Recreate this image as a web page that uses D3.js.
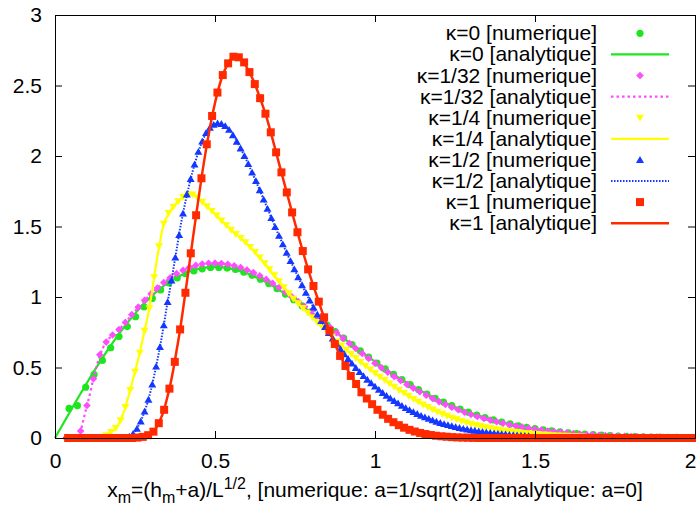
<!DOCTYPE html>
<html><head><meta charset="utf-8">
<script src="https://cdn.jsdelivr.net/npm/d3@7/dist/d3.min.js"></script>
<style>html,body{margin:0;padding:0;background:#fff;} svg{display:block;}</style>
</head><body>
<svg id="chart" width="696" height="509"></svg>
<script>
// ---------- data ----------
const xTickValues = [0, 0.5, 1, 1.5, 2];
const xTickLabels = ["0", "0.5", "1", "1.5", "2"];
const yTickValues = [0, 0.5, 1, 1.5, 2, 2.5, 3];
const yTickLabels = ["0", "0.5", "1", "1.5", "2", "2.5", "3"];
const kappaNames = ["κ=0", "κ=1/32", "κ=1/4", "κ=1/2", "κ=1"];
const numericTag = "[numerique]";
const analyticTag = "[analytique]";

// numerical results: regular grid (start, step) and values
const k0NumStart = 0.044, k0NumStep = 0.026;
const k0NumY = [0.21,0.23,0.36,0.45,0.55,0.64,0.72,0.79,0.86,0.93,
  0.99,1.05,1.10,1.135,1.165,1.185,1.20,1.21,1.21,1.205,
  1.195,1.176,1.154,1.126,1.095,1.059,1.021,0.981,0.938,0.893,
  0.848,0.801,0.755,0.709,0.663,0.618,0.574,0.532,0.490,0.451,
  0.414,0.378,0.344,0.312,0.282,0.255,0.229,0.205,0.183,0.163,
  0.145,0.128,0.113,0.100,0.087,0.076,0.067,0.058,0.050,0.043,
  0.037,0.032,0.028,0.024,0.020,0.017,0.014,0.012,0.010,0.008,
  0.007,0.006,0.005,0.004,0.003,0.002];

const k1NumStart = 0.08, k1NumStep = 0.02;
const k1NumY = [0.05,0.23,0.42,0.59,0.68,0.73,0.77,0.82,0.875,0.928,
  0.977,1.022,1.063,1.102,1.136,1.166,1.19,1.21,1.224,1.234,
  1.239,1.24,1.237,1.232,1.222,1.209,1.192,1.173,1.15,1.125,
  1.097,1.067,1.035,1.002,0.968,0.932,0.896,0.859,0.821,0.784,
  0.746,0.708,0.671,0.635,0.600,0.565,0.531,0.498,0.467,0.437,
  0.408,0.380,0.354,0.328,0.304,0.280,0.258,0.238,0.218,0.200,
  0.183,0.167,0.153,0.139,0.127,0.115,0.104,0.094,0.085,0.077,
  0.069,0.062,0.056,0.050,0.045,0.040,0.036,0.032,0.028,0.025,
  0.022,0.020,0.017,0.015,0.013,0.012,0.010,0.009,0.008,0.007,
  0.006,0.005];

const k2NumStart = 0.13, k2NumStep = 0.015;
const k2NumY = [0.0,0.005,0.02,0.043,0.07,0.125,0.22,0.34,0.47,0.605,
  0.76,0.92,1.14,1.36,1.52,1.595,1.64,1.678,1.71,1.727,
  1.727,1.705,1.675,1.643,1.61,1.577,1.543,1.509,1.476,1.446,
  1.418,1.388,1.355,1.319,1.28,1.239,1.196,1.154,1.112,1.069,
  1.027,0.988,0.955,0.921,0.888,0.855,0.822,0.787,0.753,0.719,
  0.685,0.655,0.625,0.596,0.567,0.539,0.512,0.486,0.46,0.435,
  0.411,0.387,0.364,0.341,0.319,0.298,0.277,0.257,0.237,0.219,
  0.202,0.186,0.171,0.157,0.144,0.132,0.121,0.110,0.100,0.092,
  0.084,0.076,0.070,0.064,0.058,0.053,0.048,0.044,0.040,0.036,
  0.033,0.030,0.027,0.025,0.022,0.020,0.018,0.016,0.015,0.013,
  0.012,0.011];

const k3NumStart = 0.22, k3NumStep = 0.012;
const k3NumY = [0.0,0.01,0.03,0.065,0.118,0.188,0.272,0.38,0.507,0.645,
  0.80,0.965,1.118,1.28,1.44,1.592,1.728,1.838,1.94,2.03,
  2.103,2.163,2.20,2.222,2.232,2.228,2.213,2.186,2.148,2.102,
  2.054,2.0,1.943,1.883,1.823,1.758,1.692,1.626,1.56,1.496,
  1.434,1.374,1.314,1.255,1.197,1.14,1.084,1.03,0.976,0.925,
  0.876,0.83,0.787,0.745,0.706,0.668,0.631,0.595,0.561,0.528,
  0.497,0.468,0.44,0.414,0.389,0.365,0.342,0.32,0.30,0.281,
  0.263,0.246,0.229,0.213,0.198,0.184,0.171,0.158,0.147,0.136,
  0.126,0.116,0.107,0.099,0.092,0.085,0.078,0.072,0.066,0.061,
  0.056,0.052,0.048,0.044,0.040,0.037,0.034,0.031,0.028,0.026,
  0.023,0.021,0.019,0.017,0.016,0.014];

const k4NumStart = 0.041, k4NumStep = 1 / 60;
const k4NumY = [0,0,0,0,0,0,0,0,0,0,0,0,0,
  0.003,0.008,0.02,0.045,0.105,0.20,0.35,0.54,0.77,1.03,
  1.31,1.58,1.842,2.083,2.284,2.45,2.574,2.657,2.704,2.70,
  2.664,2.595,2.51,2.41,2.30,2.168,2.026,1.884,1.742,1.60,
  1.459,1.326,1.196,1.078,0.967,0.856,0.761,0.667,0.582,0.511,
  0.44,0.383,0.324,0.28,0.24,0.20,0.165,0.136,0.112,0.091,
  0.073,0.058,0.046,0.036,0.028,0.021,0.016,0.012,0.009,0.006,
  0.004,0.003,0.002,0.001,
  0,0,0,0,0,0,0,0,0,0,0,0,0,0,0,0,0,0,0,0,
  0,0,0,0,0,0,0,0,0,0,0,0,0,0,0,0,0,0,0,0,0];

// analytical curves
const k0AnaX = [0,0.05,0.1,0.15,0.2,0.25,0.3,0.35,0.4,0.45,0.5,0.55,0.6,0.65,0.7,0.75,0.8,0.85,0.9,0.95,
  1.0,1.05,1.1,1.15,1.2,1.25,1.3,1.35,1.4,1.45,1.5,1.55,1.6,1.65,1.7,1.75,1.8,1.85,1.9,1.95,2.0];
const k0AnaY = [0,0.199,0.392,0.574,0.739,0.882,1.002,1.096,1.162,1.200,
  1.213,1.201,1.168,1.117,1.051,0.974,0.890,0.801,0.712,0.625,
  0.541,0.463,0.391,0.326,0.269,0.220,0.177,0.141,0.111,0.087,
  0.067,0.051,0.038,0.029,0.021,0.015,0.011,0.008,0.006,0.004,0.003];

const k1AnaX = [0.07,0.08,0.09,0.10,0.11,0.12,0.13,0.14,0.15,0.16,
  0.18,0.20,0.25,0.30,0.35,0.40,0.45,0.50,0.55,0.60,
  0.65,0.70,0.75,0.80,0.85,0.90,0.95,1.00,1.05,1.10,
  1.15,1.20,1.25,1.30,1.35,1.40,1.45,1.50,1.60,1.70,1.80,1.90,2.00];
const k1AnaY = [0,0.05,0.14,0.23,0.32,0.42,0.51,0.585,0.64,0.68,
  0.73,0.77,0.90,1.022,1.12,1.19,1.23,1.24,1.227,1.192,
  1.137,1.067,0.985,0.896,0.803,0.708,0.617,0.531,0.452,0.380,
  0.316,0.258,0.209,0.167,0.133,0.104,0.081,0.062,0.036,0.020,0.010,0.005,0.002];

const k2AnaX = [0.13,0.15,0.17,0.19,0.20,0.21,0.22,0.23,0.24,0.25,
  0.26,0.27,0.28,0.29,0.30,0.31,0.32,0.33,0.34,0.35,
  0.37,0.39,0.41,0.43,0.45,0.50,0.55,0.60,0.65,0.70,
  0.75,0.80,0.85,0.90,0.95,1.00,1.05,1.10,1.15,1.20,
  1.25,1.30,1.40,1.50,1.60,1.70,1.80,2.00];
const k2AnaY = [0,0.01,0.035,0.07,0.105,0.155,0.22,0.30,0.383,0.47,
  0.56,0.657,0.76,0.867,0.993,1.14,1.287,1.413,1.52,1.57,
  1.64,1.689,1.721,1.727,1.695,1.588,1.476,1.378,1.253,1.112,
  0.977,0.866,0.753,0.645,0.548,0.46,0.379,0.305,0.237,0.181,
  0.136,0.100,0.056,0.029,0.015,0.007,0.003,0];

const k3AnaX = [0.20,0.22,0.24,0.25,0.26,0.27,0.28,0.29,0.30,0.31,
  0.32,0.33,0.34,0.35,0.36,0.37,0.38,0.39,0.40,
  0.42,0.44,0.46,0.48,0.50,0.52,0.54,0.56,0.58,0.60,
  0.65,0.70,0.75,0.80,0.85,0.90,0.95,1.00,
  1.05,1.10,1.15,1.20,1.30,1.40,1.50,1.60,1.80,2.00];
const k3AnaY = [0,0.003,0.022,0.045,0.083,0.13,0.188,0.258,0.343,0.443,
  0.553,0.67,0.80,0.94,1.065,1.2,1.335,1.475,1.592,
  1.80,1.97,2.103,2.19,2.226,2.228,2.196,2.14,2.054,1.962,
  1.703,1.434,1.188,0.959,0.766,0.607,0.473,0.365,
  0.278,0.208,0.152,0.11,0.056,0.027,0.013,0.006,0.001,0];

const k4AnaX = [0.025,0.25,0.27,0.29,0.30,0.31,0.32,0.33,0.34,0.35,
  0.36,0.37,0.38,0.39,0.40,
  0.42,0.44,0.46,0.48,0.50,0.52,0.54,0.56,0.58,0.60,
  0.62,0.64,0.66,0.68,0.70,0.72,0.74,0.76,0.78,0.80,
  0.82,0.84,0.86,0.88,0.90,
  0.95,1.00,1.05,1.10,1.15,1.20,1.25,1.30,1.40,2.00];
const k4AnaY = [0,0.002,0.006,0.019,0.032,0.052,0.088,0.135,0.195,0.28,
  0.375,0.49,0.62,0.755,0.91,
  1.235,1.565,1.877,2.15,2.376,2.546,2.653,2.705,2.69,2.625,
  2.535,2.416,2.282,2.12,1.948,1.777,1.608,1.44,1.28,1.13,
  0.995,0.862,0.748,0.638,0.543,
  0.351,0.218,0.124,0.065,0.032,0.014,0.005,0.0015,0,0];

// ---------- styles ----------
const FONT = "'Liberation Sans', Arial, Helvetica, sans-serif";
const styles = [
  {color: "#1ee61e", marker: "circle",  dash: null,      width: 2.2},
  {color: "#ff4cff", marker: "diamond", dash: "2.5,3",   width: 2.2},
  {color: "#ffff00", marker: "tridown", dash: null,      width: 2.2},
  {color: "#1438ff", marker: "triup",   dash: "1.5,1.5", width: 2},
  {color: "#ff2a00", marker: "square",  dash: null,      width: 2.5}
];

const numeric = [
  {start: k0NumStart, step: k0NumStep, y: k0NumY},
  {start: k1NumStart, step: k1NumStep, y: k1NumY},
  {start: k2NumStart, step: k2NumStep, y: k2NumY},
  {start: k3NumStart, step: k3NumStep, y: k3NumY},
  {start: k4NumStart, step: k4NumStep, y: k4NumY}
];
const analytic = [
  {x: k0AnaX, y: k0AnaY}, {x: k1AnaX, y: k1AnaY}, {x: k2AnaX, y: k2AnaY},
  {x: k3AnaX, y: k3AnaY}, {x: k4AnaX, y: k4AnaY}
];

// marker shapes
const shapes = {
  circle: d3.symbolCircle,
  square: d3.symbolSquare,
  diamond: {draw(c, s) { const r = Math.sqrt(s); c.moveTo(0, -r); c.lineTo(r, 0); c.lineTo(0, r); c.lineTo(-r, 0); c.closePath(); }},
  triup: {draw(c, s) { const r = Math.sqrt(s); c.moveTo(0, -r); c.lineTo(r * 1.05, r * 0.8); c.lineTo(-r * 1.05, r * 0.8); c.closePath(); }},
  tridown: {draw(c, s) { const r = Math.sqrt(s); c.moveTo(0, r); c.lineTo(r * 1.05, -r * 0.8); c.lineTo(-r * 1.05, -r * 0.8); c.closePath(); }}
};
const sizes = {circle: Math.PI * 3.6 * 3.6, square: 64, diamond: 3.8 * 3.8, triup: 3.8 * 3.8, tridown: 3.8 * 3.8};
function symbolPath(m) { return d3.symbol().type(shapes[m]).size(sizes[m])(); }

// ---------- chart ----------
const svg = d3.select("#chart");
const x = d3.scaleLinear().domain([0, 2]).range([55, 695]);
const y = d3.scaleLinear().domain([0, 3]).range([438, 15]);

const plot = svg.append("g");

// axes (ticks inward, mirrored)
const axB = svg.append("g").attr("transform", "translate(0,438)")
  .call(d3.axisBottom(x).tickValues(xTickValues).tickFormat((d, i) => xTickLabels[i])
    .tickSizeInner(-7).tickSizeOuter(0).tickPadding(15));
const axL = svg.append("g").attr("transform", "translate(55,0)")
  .call(d3.axisLeft(y).tickValues(yTickValues).tickFormat((d, i) => yTickLabels[i])
    .tickSizeInner(-7).tickSizeOuter(0).tickPadding(13));
const axT = svg.append("g").attr("transform", "translate(0,15)")
  .call(d3.axisTop(x).tickValues(xTickValues).tickFormat("").tickSizeInner(-7).tickSizeOuter(0));
const axR = svg.append("g").attr("transform", "translate(695,0)")
  .call(d3.axisRight(y).tickValues(yTickValues).tickFormat("").tickSizeInner(-7).tickSizeOuter(0));
[axB, axL, axT, axR].forEach(g => {
  g.attr("font-family", FONT).attr("font-size", 21).attr("color", "#000");
  g.selectAll("path.domain").attr("stroke-width", 1);
  g.selectAll("line").attr("stroke-width", 1);
});
// keep the last x label inside the picture
axB.selectAll(".tick text").filter((d, i, n) => i === n.length - 1)
  .attr("text-anchor", "end").attr("x", 1);

// data
const line = d3.line().x(d => x(d[0])).y(d => y(d[1])).curve(d3.curveMonotoneX);
styles.forEach((st, s) => {
  const nd = numeric[s];
  const pts = nd.y.map((v, i) => [nd.start + i * nd.step, v]);
  const sym = symbolPath(st.marker);
  plot.append("g").selectAll("path").data(pts).join("path")
    .attr("d", sym)
    .attr("transform", d => `translate(${x(d[0])},${y(d[1])})`)
    .attr("fill", st.color);
  const ad = analytic[s];
  const apts = ad.x.map((v, i) => [v, ad.y[i]]);
  plot.append("path").datum(apts)
    .attr("d", line)
    .attr("fill", "none")
    .attr("stroke", st.color)
    .attr("stroke-width", st.width)
    .attr("stroke-dasharray", st.dash);
});

// legend
const leg = svg.append("g").attr("font-family", FONT).attr("font-size", 21);
styles.forEach((st, s) => {
  const yNum = 33.3 + 21.1 * (2 * s);
  const yAna = 33.3 + 21.1 * (2 * s + 1);
  leg.append("text").attr("x", 597).attr("y", yNum + 7).attr("text-anchor", "end")
    .attr("fill", "#000").text(kappaNames[s] + " " + numericTag);
  leg.append("path").attr("d", symbolPath(st.marker))
    .attr("transform", `translate(640,${yNum})`).attr("fill", st.color);
  leg.append("text").attr("x", 597).attr("y", yAna + 7).attr("text-anchor", "end")
    .attr("fill", "#000").text(kappaNames[s] + " " + analyticTag);
  leg.append("line").attr("x1", 611).attr("x2", 669).attr("y1", yAna).attr("y2", yAna)
    .attr("stroke", st.color).attr("stroke-width", st.width).attr("stroke-dasharray", st.dash);
});

// x-axis title with subscripts / superscript
const title = svg.append("text").attr("x", 375).attr("y", 497).attr("text-anchor", "middle")
  .attr("font-family", FONT).attr("font-size", 21).attr("fill", "#000");
title.append("tspan").text("x");
title.append("tspan").attr("dy", 6).attr("font-size", 16).text("m");
title.append("tspan").attr("dy", -6).text("=(h");
title.append("tspan").attr("dy", 6).attr("font-size", 16).text("m");
title.append("tspan").attr("dy", -6).text("+a)/L");
title.append("tspan").attr("dy", -8).attr("font-size", 16).text("1/2");
title.append("tspan").attr("dy", 8).text(", [numerique: a=1/sqrt(2)] [analytique: a=0]");
</script>
</body></html>
